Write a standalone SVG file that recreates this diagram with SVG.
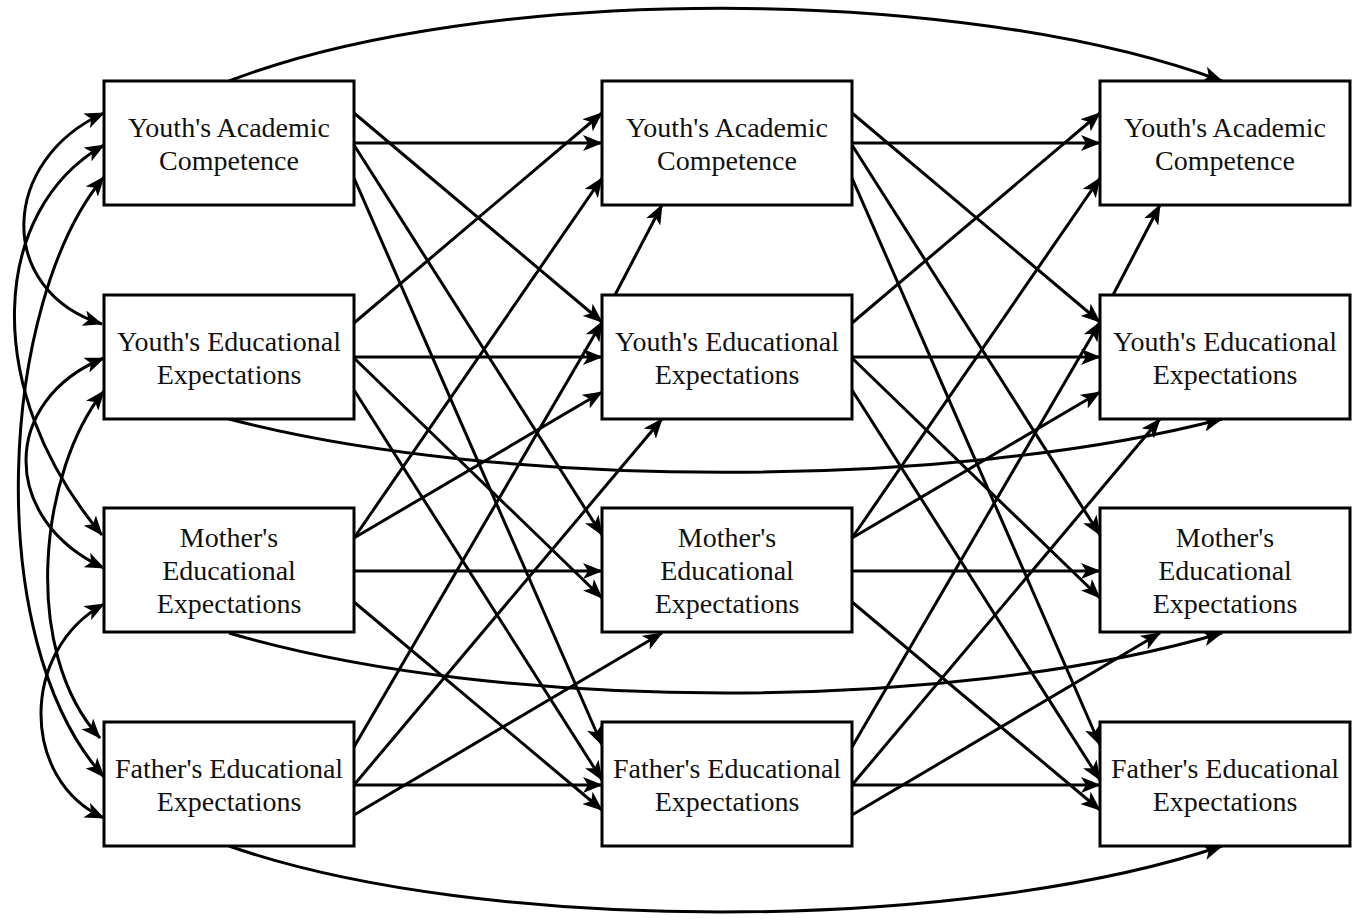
<svg xmlns="http://www.w3.org/2000/svg" width="1360" height="919" viewBox="0 0 1360 919">
<defs>
<marker id="ah" viewBox="0 0 20 16" refX="19" refY="8" markerWidth="20" markerHeight="16" markerUnits="userSpaceOnUse" orient="auto-start-reverse">
<path d="M0,0 L20,8 L0,16 L5,8 Z" fill="#000"/>
</marker>
<style>
.box{fill:#fff;stroke:#000;stroke-width:3}
.lbl{font-family:"Liberation Serif","Times New Roman",serif;font-size:28px;fill:#111;text-anchor:middle}
.c{fill:none;stroke:#000;stroke-width:3;marker-end:url(#ah)}
.d{fill:none;stroke:#000;stroke-width:3;marker-start:url(#ah);marker-end:url(#ah)}
</style>
</defs>
<rect width="1360" height="919" fill="#fff"/>
<g id="connectors">
<path class="c" d="M229,81 C480,-16 960,-16 1222,81"/>
<path class="c" d="M229,846 C480,934 960,934 1222,846"/>
<path class="c" d="M229,419 C500,490 950,490 1222,419"/>
<path class="c" d="M229,633 C500,713 950,713 1222,633"/>
<path class="d" d="M104,113 C0,160 -5,290 102,324"/>
<path class="d" d="M104,145 C-10,210 -20,390 102,535"/>
<path class="d" d="M104,177 C0,300 -20,640 104,777"/>
<path class="d" d="M104,358 C0,400 0,520 104,568"/>
<path class="d" d="M104,391 C40,470 20,650 100,738"/>
<path class="d" d="M104,604 C20,650 20,780 104,818"/>
<g id="lag12">
<path class="c" d="M354,113 L602,322"/>
<path class="c" d="M354,143 L602,143"/>
<path class="c" d="M354,145 L602,535"/>
<path class="c" d="M354,178 L602,745"/>
<path class="c" d="M354,323 L602,113"/>
<path class="c" d="M354,357 L602,357"/>
<path class="c" d="M354,358 L602,598"/>
<path class="c" d="M354,390 L602,780"/>
<path class="c" d="M354,538 L602,178"/>
<path class="c" d="M354,538 L602,392"/>
<path class="c" d="M354,571 L602,571"/>
<path class="c" d="M354,602 L602,810"/>
<path class="c" d="M354,747 L602,322"/>
<path class="c" d="M354,785 L602,785"/>
<path class="c" d="M354,785 L662,419"/>
<path class="c" d="M354,815 L662,633"/>
<path class="c" d="M615,295 L662,205"/>
</g>
<g id="lag23" transform="translate(498,0)">
<path class="c" d="M354,113 L602,322"/>
<path class="c" d="M354,143 L602,143"/>
<path class="c" d="M354,145 L602,535"/>
<path class="c" d="M354,178 L602,745"/>
<path class="c" d="M354,323 L602,113"/>
<path class="c" d="M354,357 L602,357"/>
<path class="c" d="M354,358 L602,598"/>
<path class="c" d="M354,390 L602,780"/>
<path class="c" d="M354,538 L602,178"/>
<path class="c" d="M354,538 L602,392"/>
<path class="c" d="M354,571 L602,571"/>
<path class="c" d="M354,602 L602,810"/>
<path class="c" d="M354,747 L602,322"/>
<path class="c" d="M354,785 L602,785"/>
<path class="c" d="M354,785 L662,419"/>
<path class="c" d="M354,815 L662,633"/>
<path class="c" d="M615,295 L662,205"/>
</g>
</g>
<g id="n1a"><rect class="box" x="104" y="81" width="250" height="124"/><text class="lbl" x="229" y="137">Youth's Academic</text><text class="lbl" x="229" y="170">Competence</text></g>
<g id="n1b"><rect class="box" x="104" y="295" width="250" height="124"/><text class="lbl" x="229" y="351">Youth's Educational</text><text class="lbl" x="229" y="384">Expectations</text></g>
<g id="n1c"><rect class="box" x="104" y="508" width="250" height="124"/><text class="lbl" x="229" y="547">Mother's</text><text class="lbl" x="229" y="580">Educational</text><text class="lbl" x="229" y="613">Expectations</text></g>
<g id="n1d"><rect class="box" x="104" y="722" width="250" height="124"/><text class="lbl" x="229" y="778">Father's Educational</text><text class="lbl" x="229" y="811">Expectations</text></g>
<g id="n2a"><rect class="box" x="602" y="81" width="250" height="124"/><text class="lbl" x="727" y="137">Youth's Academic</text><text class="lbl" x="727" y="170">Competence</text></g>
<g id="n2b"><rect class="box" x="602" y="295" width="250" height="124"/><text class="lbl" x="727" y="351">Youth's Educational</text><text class="lbl" x="727" y="384">Expectations</text></g>
<g id="n2c"><rect class="box" x="602" y="508" width="250" height="124"/><text class="lbl" x="727" y="547">Mother's</text><text class="lbl" x="727" y="580">Educational</text><text class="lbl" x="727" y="613">Expectations</text></g>
<g id="n2d"><rect class="box" x="602" y="722" width="250" height="124"/><text class="lbl" x="727" y="778">Father's Educational</text><text class="lbl" x="727" y="811">Expectations</text></g>
<g id="n3a"><rect class="box" x="1100" y="81" width="250" height="124"/><text class="lbl" x="1225" y="137">Youth's Academic</text><text class="lbl" x="1225" y="170">Competence</text></g>
<g id="n3b"><rect class="box" x="1100" y="295" width="250" height="124"/><text class="lbl" x="1225" y="351">Youth's Educational</text><text class="lbl" x="1225" y="384">Expectations</text></g>
<g id="n3c"><rect class="box" x="1100" y="508" width="250" height="124"/><text class="lbl" x="1225" y="547">Mother's</text><text class="lbl" x="1225" y="580">Educational</text><text class="lbl" x="1225" y="613">Expectations</text></g>
<g id="n3d"><rect class="box" x="1100" y="722" width="250" height="124"/><text class="lbl" x="1225" y="778">Father's Educational</text><text class="lbl" x="1225" y="811">Expectations</text></g>
</svg>
